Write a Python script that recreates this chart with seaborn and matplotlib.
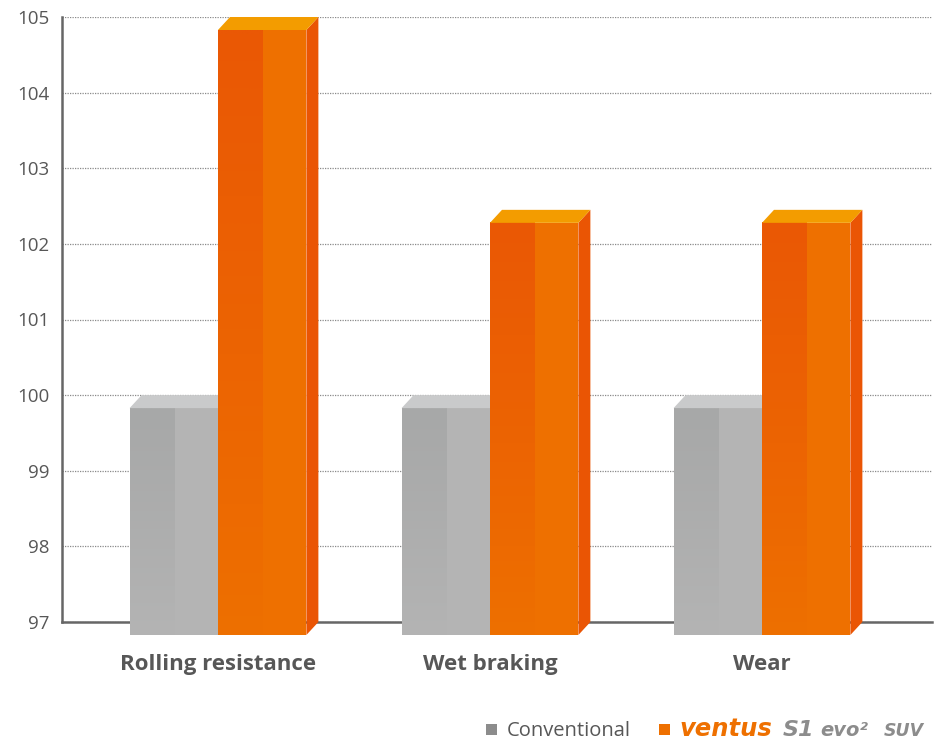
import numpy as np
import pandas as pd
import seaborn as sns
import matplotlib
matplotlib.use("Agg")
import matplotlib.pyplot as plt
from matplotlib.patches import Polygon, Rectangle
from matplotlib.colors import LinearSegmentedColormap

# ---- data -------------------------------------------------------------
categories = ["Rolling resistance", "Wet braking", "Wear"]
series = ["Conventional", "Ventus S1 evo² SUV"]
conventional = [100, 100, 100]
ventus = [105, 102.45, 102.45]
y_ticks = [97, 98, 99, 100, 101, 102, 103, 104, 105]

# ---- colours ----------------------------------------------------------
FACE = {  # front-right, front-left (top of gradient), top, side
    "Conventional": ("#B4B4B4", "#A7A8A8", "#C9CACB", "#9E9E9E"),
    "Ventus S1 evo² SUV": ("#EE7000", "#EA5805", "#F39C00", "#EA5504"),
}
TEXT = "#575757"

df = pd.DataFrame({
    "category": categories * 2,
    "series": [series[0]] * 3 + [series[1]] * 3,
    "value": conventional + ventus,
})

W, H = 941, 740
fig = plt.figure(figsize=(W / 100, H / 100), dpi=100)
ax_l, ax_r, ax_t, ax_b = 62, 932, 17, 622
ax = fig.add_axes([ax_l / W, 1 - ax_b / H, (ax_r - ax_l) / W, (ax_b - ax_t) / H])

sns.barplot(data=df, x="category", y="value", hue="series",
            palette={s: FACE[s][0] for s in series}, width=0.65,
            saturation=1, legend=False, ax=ax, zorder=3)

ymin, ymax = 97, 105
xlim = (-0.6176, 2.581)
ax.set_xlim(*xlim)
ax.set_ylim(ymin, ymax)

# depth of the 3-D prism, in data units (12 px across, 13 px down)
px_x = (xlim[1] - xlim[0]) / (ax_r - ax_l)
px_y = (ymax - ymin) / (ax_b - ax_t)
ddx, ddy = 12 * px_x, 13 * px_y

for container, name in zip(ax.containers, series):
    right_c, left_c, top_c, side_c = FACE[name]
    z = 3 if name == series[0] else 5
    for bar in container:
        x0, w, v = bar.get_x(), bar.get_width(), bar.get_height()
        fx0, fx1 = x0 - ddx, x0 - ddx + w
        fy0, fy1 = ymin - ddy, v - ddy
        # front face
        bar.set_x(fx0)
        bar.set_y(fy0)
        bar.set_height(v - ymin)
        bar.set_clip_on(False)
        bar.set_zorder(z)
        bar.set_linewidth(0)
        # shaded left half of the front face
        cmap = LinearSegmentedColormap.from_list("g", [right_c, left_c])
        grad = np.linspace(0, 1, 256).reshape(-1, 1) ** 0.9
        im = ax.imshow(grad, extent=[fx0, fx0 + w / 2, fy0, fy1], origin="lower",
                       aspect="auto", cmap=cmap, zorder=z + 0.1,
                       interpolation="bilinear")
        im.set_clip_on(False)
        # top face
        ax.add_patch(Polygon([(fx0, fy1), (fx1, fy1), (fx1 + ddx, v), (fx0 + ddx, v)],
                             closed=True, facecolor=top_c, edgecolor="none",
                             zorder=z + 0.2, clip_on=False))
        # right side face
        ax.add_patch(Polygon([(fx1, fy1), (fx1 + ddx, v), (fx1 + ddx, ymin), (fx1, fy0)],
                             closed=True, facecolor=side_c, edgecolor="none",
                             zorder=z - 0.5, clip_on=False))

ax.set_xlim(*xlim)
ax.set_ylim(ymin, ymax)

# ---- axes styling -----------------------------------------------------
ax.set_yticks(y_ticks)
ax.set_yticklabels([str(t) for t in y_ticks], fontfamily="Open Sans",
                   fontsize=13.5, color=TEXT)
ax.set_xticks(np.arange(len(categories)) - ddx)
ax.set_xticklabels(categories, fontfamily="Open Sans", fontweight="bold",
                   fontsize=16, color=TEXT)
ax.tick_params(axis="y", length=0, pad=9)
ax.tick_params(axis="x", length=0, pad=23)
ax.set_xlabel("")
ax.set_ylabel("")

ax.set_axisbelow(True)
ax.yaxis.grid(True, color="#8a8a8a", linestyle=(0, (1, 1)), linewidth=0.9)
ax.xaxis.grid(False)
for side in ("top", "right"):
    ax.spines[side].set_visible(False)
for side in ("left", "bottom"):
    ax.spines[side].set_color("#666666")
    ax.spines[side].set_linewidth(1.8)
    ax.spines[side].set_zorder(2)
ax.set_facecolor("white")

# ---- legend -----------------------------------------------------------
def px(x, y):
    return x / W, 1 - y / H

def square(x, y, color):
    fig.add_artist(Rectangle(px(x, y + 11), 11 / W, 11 / H, facecolor=color,
                             edgecolor="none", transform=fig.transFigure))

base_y = 736
square(486, 724, "#8C8C8C")
fig.text(*px(507, base_y), "Conventional", fontfamily="Open Sans", fontsize=14.5,
         color=TEXT, va="baseline", ha="left")
square(659, 724, "#EE7000")
fig.text(*px(679, base_y), "ventus", fontfamily="DejaVu Sans", fontweight="bold",
         fontstyle="oblique", fontsize=17.5, color="#EE7000", va="baseline", ha="left")
fig.text(*px(783, base_y), "S1", fontfamily="DejaVu Sans", fontweight="bold",
         fontstyle="oblique", fontsize=16, color="#8C8C8C", va="baseline", ha="left")
fig.text(*px(820, base_y), "evo²", fontfamily="DejaVu Sans", fontweight="bold",
         fontstyle="oblique", fontsize=14, color="#8C8C8C", va="baseline", ha="left")
fig.text(*px(884, base_y), "SUV", fontfamily="DejaVu Sans", fontweight="bold",
         fontstyle="oblique", fontsize=12.5, color="#8C8C8C", va="baseline", ha="left")

fig.savefig("out.png", dpi=100, facecolor="white")
